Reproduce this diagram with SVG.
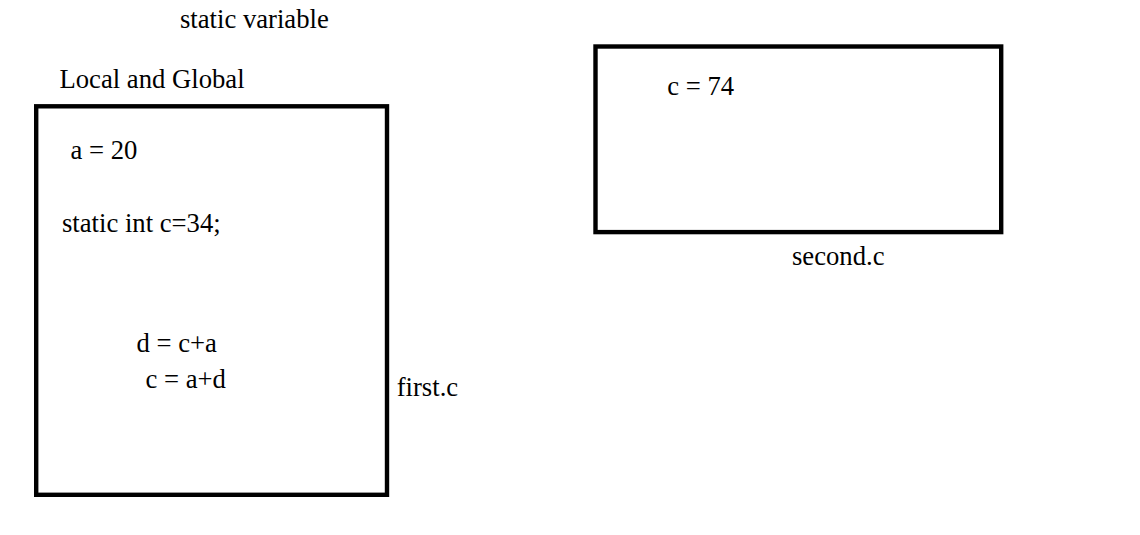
<svg xmlns="http://www.w3.org/2000/svg" width="1140" height="535" viewBox="0 0 1140 535">
<style>
text{font-family:"Liberation Serif","Times New Roman",serif;font-size:26.67px;fill:#000}
.box{fill:none;stroke:#000;stroke-width:4.4}
</style>
<rect width="1140" height="535" fill="#fff"/>
<text x="180" y="27.5">static variable</text>
<text x="59.5" y="88.3">Local and Global</text>
<g id="first">
<rect class="box" x="36.2" y="106.3" width="350.8" height="388.5"/>
<text x="70.5" y="159">a = 20</text>
<text x="62" y="232">static int c=34;</text>
<text x="136.5" y="351.7">d = c+a</text>
<text x="145.5" y="387.7">c = a+d</text>
<text x="396.7" y="396">first.c</text>
</g>
<g id="second">
<rect class="box" x="595.5" y="46.5" width="405.7" height="185.6"/>
<text x="667.3" y="95">c = 74</text>
<text x="792" y="265">second.c</text>
</g>
<g id="connectors"></g>
</svg>
